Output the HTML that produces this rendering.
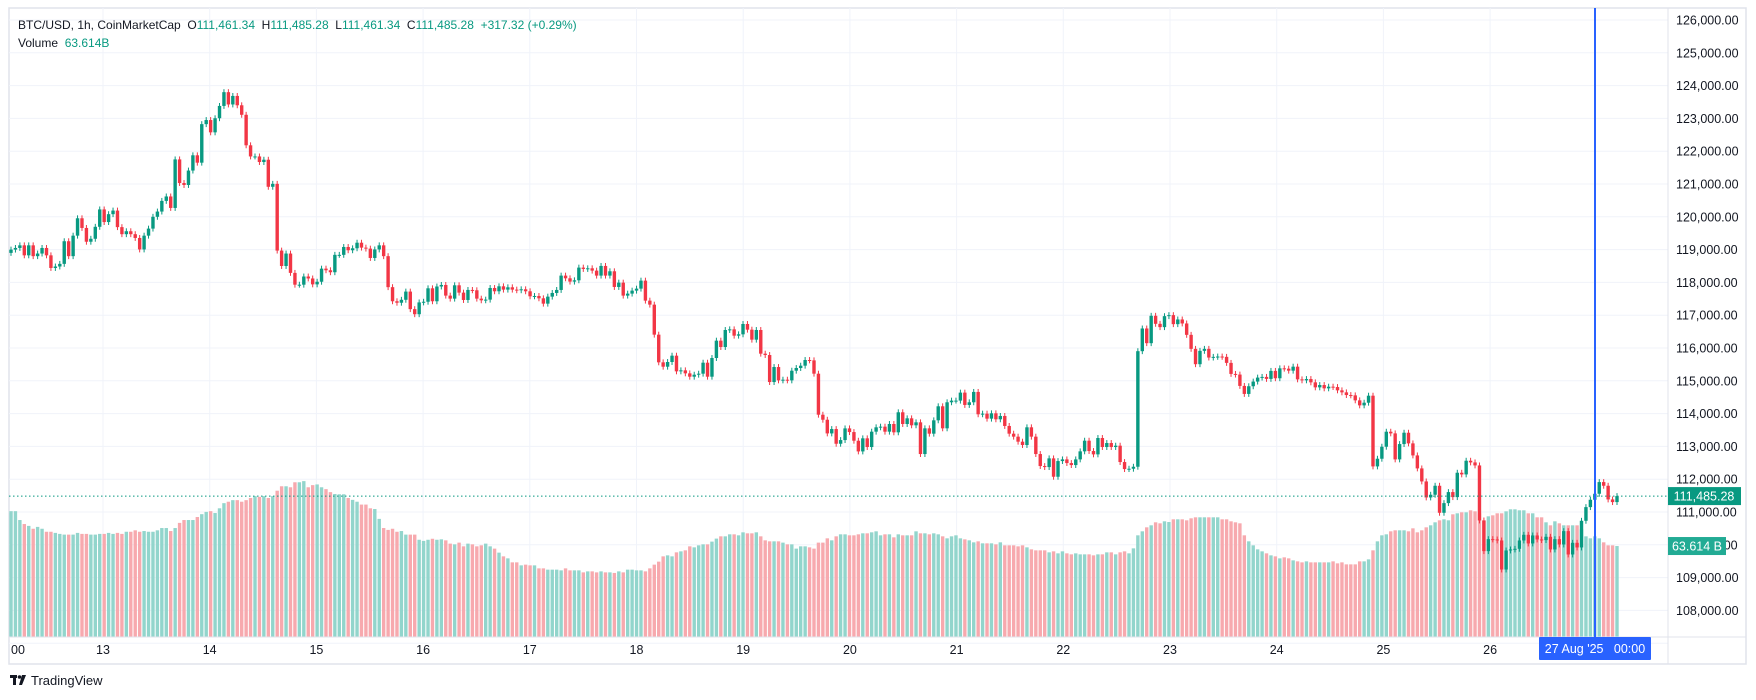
<!DOCTYPE html>
<html><head><meta charset="utf-8"><style>
html,body{margin:0;padding:0;background:#fff;}
body{width:1756px;height:700px;overflow:hidden;position:relative;font-family:"Liberation Sans",sans-serif;}
svg{position:absolute;left:0;top:0;}
</style></head><body>
<svg id="chart" width="1756" height="700" viewBox="0 0 1756 700">
<rect x="9" y="8" width="1737" height="656" fill="#fff" stroke="#e0e3eb" stroke-width="1.5"/>
<g id="grid"></g>
<g id="vol"></g>
<g id="candles"></g>
<g id="axes"></g>
</svg>
<script>
const closes = [
119000,119050,119130,118825,119130,118800,118880,119050,118825,118440,118485,118565,119255,118800,119425,119955,119660,119240,119330,119695,
120225,119840,120080,120190,119685,119470,119560,119470,119355,119005,119425,119640,120000,120160,120485,120620,120270,121750,121030,120970,
121410,121875,121650,122825,122950,122575,123005,123380,123800,123425,123685,123400,123110,122180,121840,121840,121670,121740,120915,121005,
118970,118500,118880,118290,117930,117930,118180,118120,117940,118020,118420,118370,118310,118840,118840,119080,118980,119040,119210,119060,
119030,118745,119005,119130,118800,117855,117425,117380,117470,117720,117185,117030,117390,117410,117820,117425,117875,
117922,117597,117505,117912,117688,117464,117770,117760,117505,117454,117475,117830,117729,117881,117780,117851,117780,117760,117790,117729,
117576,117586,117515,117352,117566,117678,117770,118207,118125,118024,118064,118451,118410,118430,118359,118207,118502,118207,118339,117861,
117993,117597,117658,117749,117810,118054,117444,117322,116407,115563,115430,115573,115766,115288,115319,115227,115125,115186,115217,115552,
115125,115695,116224,116030,116549,116569,116376,116417,116732,116559,116254,116549,115827,115786,114962,115420,115013,115034,115013,115308,
115390,115461,115634,115623,115217,113966,113813,113396,113529,113081,113193,113549,113437,113173,112847,
113246,112981,113449,113582,113602,113449,113683,113429,114040,113683,113856,113643,113734,112767,113551,113388,113795,114223,113551,114345,
114396,114396,114640,114264,114345,114661,113979,113999,113846,114009,113826,113928,113623,113388,113297,113144,113042,113582,113297,112767,
112401,112370,112635,112075,112553,112604,112492,112431,112604,112849,113174,112859,112757,113256,112981,113103,112981,113022,112523,112309,
112319,112380,115903,116595,116147,116982,116737,116636,116971,117002,116727,116870,116748,116401,115974,115506,115913,115974,115709,115730,
115740,115730,115546,115210,115190,114844,114600,114834,114976,115098,115119,115058,115302,115078,
115380,115370,115309,115431,115044,115014,115054,114953,114800,114871,114770,114821,114810,114709,114648,114566,114556,114404,114251,114332,
114546,112390,112624,112990,113448,113397,112604,113071,113417,113092,112725,112329,111932,111444,111526,111800,110976,111271,111607,111454,
112197,112146,112563,112512,112420,110742,109807,110173,110163,110132,109247,109827,109858,109878,110132,110305,110041,110285,110163,110143,
110244,109858,110173,110010,110417,109705,110061,109919,110732,111149,111373,111556,111912,111800,111383,111302,111485.28
];
const volumes = [
88.0,88.0,81.8,79.0,77.7,75.7,77.0,75.7,73.6,73.6,72.8,72.1,71.6,71.6,71.6,72.8,72.1,72.1,71.6,71.6,
72.1,72.1,72.8,72.1,72.8,72.1,73.6,73.6,74.6,73.6,74.1,73.6,73.6,74.6,76.2,76.2,74.1,76.2,79.8,81.8,
81.8,81.8,83.9,85.9,87.5,88.0,86.7,90.0,93.6,94.6,95.7,95.7,94.6,95.7,97.2,98.5,98.0,98.5,97.2,98.5,
102.3,105.4,105.4,104.7,108.2,108.2,109.0,104.7,106.2,106.7,104.7,103.4,101.3,100.0,99.8,99.8,97.2,95.9,94.6,92.6,
92.6,90.0,89.5,82.6,76.2,74.9,75.7,73.6,74.1,71.6,71.6,71.6,68.0,67.2,68.0,68.7,68.0,
68.3,67.6,65.3,64.8,66.0,63.4,65.3,64.8,63.4,64.1,65.3,63.4,61.8,59.0,56.4,55.0,52.2,52.2,50.1,50.6,
50.1,50.1,48.0,48.0,47.1,47.1,47.1,46.6,48.0,46.6,46.6,46.6,45.2,45.9,45.9,45.2,45.9,45.2,45.2,44.8,
45.9,45.2,47.1,47.1,46.6,46.6,45.9,48.0,50.6,52.7,56.4,57.1,56.4,59.2,59.9,60.6,63.4,62.7,64.1,64.8,
64.8,66.7,68.8,70.4,70.4,71.8,71.8,71.1,73.2,72.5,72.5,73.2,70.4,67.6,66.9,66.9,66.9,66.0,64.8,64.8,
61.8,63.4,63.4,62.7,61.8,66.0,66.0,69.0,67.6,70.4,71.8,71.8,71.1,71.1,71.8,
72.5,72.5,73.2,73.9,71.1,71.8,71.8,69.7,71.8,71.1,71.1,71.1,73.9,72.5,72.5,71.8,72.5,71.8,70.4,69.0,
70.4,71.1,69.0,68.3,67.6,66.2,66.9,65.5,65.5,65.5,64.8,66.2,64.1,64.1,64.1,63.4,64.1,62.7,61.3,60.6,
60.6,60.6,59.2,59.9,58.5,59.9,58.5,57.8,58.5,57.8,57.8,57.8,57.1,57.8,57.8,59.2,59.2,57.8,59.2,59.9,
58.5,62.0,71.1,73.9,76.7,78.1,80.2,79.5,80.9,80.4,82.3,82.3,82.3,81.6,83.0,83.7,83.7,83.7,83.7,83.7,
83.7,82.3,82.3,80.9,80.2,79.5,71.1,66.9,64.1,61.3,59.9,58.5,57.1,56.4,
55.0,55.7,55.0,53.6,52.9,52.2,52.9,52.2,52.2,52.2,52.2,52.2,52.9,51.5,52.2,50.8,50.8,50.8,52.9,52.9,
54.3,60.6,66.9,71.1,71.8,73.9,74.6,74.6,74.6,73.9,76.0,73.2,74.6,76.7,78.1,80.2,81.6,82.3,81.6,85.8,
86.5,87.2,87.2,88.6,87.9,86.5,81.6,84.4,85.1,86.5,86.5,87.9,89.3,89.3,88.6,88.6,86.5,86.5,83.7,83.7,
80.2,78.1,80.9,79.5,78.1,78.1,78.1,78.1,75.3,70.4,69.0,70.4,69.0,66.2,64.1,64.1,63.614
];
const priceTicks = [126000,125000,124000,123000,122000,121000,120000,119000,118000,117000,116000,115000,114000,113000,112000,111000,110000,109000,108000];
const dayLabels = ["13","14","15","16","17","18","19","20","21","22","23","24","25","26"];
const firstOpen = 118900;
const lastPrice = 111485.28;
const lastVolume = "63.614 B";

const NS = "http://www.w3.org/2000/svg";
const PL = 9, PR = 1668, PT = 8, PB = 637;
const yP = p => 20 + (126000 - p) * 0.0328;
const n = closes.length;
const xI = i => 11 + i * (1606 / (n - 1));
const dayX = d => 103 + d * 106.7;
const yV = v => PB - v * 1.43;
function mk(tag, attrs, parent) {
  const e = document.createElementNS(NS, tag);
  for (const k in attrs) e.setAttribute(k, attrs[k]);
  parent.appendChild(e);
  return e;
}
const grid = document.getElementById('grid');
const axes = document.getElementById('axes');
const vol = document.getElementById('vol');
const cg = document.getElementById('candles');

priceTicks.forEach(p => {
  const l = mk('line', {x1: PL, x2: PR, y1: yP(p), y2: yP(p), stroke: '#f0f3fa', 'stroke-width': 1}, grid);
  
  
});
mk('line', {x1: PL, x2: PR, y1: yP(107000), y2: yP(107000), stroke: '#f0f3fa'}, grid);
dayLabels.forEach((d, i) => {
  const l = mk('line', {x1: dayX(i), x2: dayX(i), y1: PT, y2: PB, stroke: '#f0f3fa', 'stroke-width': 1}, grid);
  
  
});

let prev = firstOpen;
closes.forEach((c, i) => {
  const o = prev; prev = c;
  const up = c >= o;
  const x = xI(i);
  const v = volumes[Math.min(i, volumes.length - 1)];
  const vb = mk('rect', {x: x - 1.7, y: yV(v), width: 3.4, height: PB - yV(v), fill: up ? '#92d5cc' : '#f7a9ae'}, vol);
  
  
  const col = up ? '#089981' : '#f23645';
  const hi = Math.max(o, c) + 90, lo = Math.min(o, c) - 90;
  const w = mk('line', {x1: x, x2: x, y1: yP(hi), y2: yP(lo), stroke: col, 'stroke-width': 1}, cg);
  
  
  const top = yP(Math.max(o, c)), bot = yP(Math.min(o, c));
  const b = mk('rect', {x: x - 1.7, y: top, width: 3.4, height: Math.max(1, bot - top), fill: col}, cg);
  
  
});

// current price line
const pl = mk('line', {x1: PL, x2: PR, y1: yP(lastPrice), y2: yP(lastPrice), stroke: '#089981', 'stroke-width': 1, 'stroke-dasharray': '1.5 2.5'}, axes);



// axes borders
mk('line', {x1: PR, x2: PR, y1: PT, y2: 664, stroke: '#e0e3eb'}, axes);
mk('line', {x1: PL, x2: 1746, y1: PB, y2: PB, stroke: '#e0e3eb'}, axes);

priceTicks.forEach(p => {
  const t = mk('text', {x: 1676, y: yP(p) + 4.5, 'font-size': 12.5, fill: '#131722', 'font-family': 'Liberation Sans, sans-serif'}, axes);
  t.textContent = p.toLocaleString('en-US', {minimumFractionDigits: 2});
  
  
});
dayLabels.forEach((d, i) => {
  const t = mk('text', {x: dayX(i), y: 654, 'font-size': 12.5, fill: '#131722', 'text-anchor': 'middle', 'font-family': 'Liberation Sans, sans-serif'}, axes);
  t.textContent = d;
  
  
});
const t0 = mk('text', {x: 11, y: 654, 'font-size': 12.5, fill: '#131722', 'font-family': 'Liberation Sans, sans-serif'}, axes);
t0.textContent = '00';



// crosshair
const cx = mk('rect', {x: 1594, y: PT, width: 2, height: PB - PT, fill: '#2962ff'}, axes);


const cb = mk('rect', {x: 1539, y: PB, width: 112, height: 23, fill: '#2962ff', rx: 1}, axes);


const ct = mk('text', {x: 1595, y: 653, 'font-size': 12.5, fill: '#fff', 'text-anchor': 'middle', 'font-family': 'Liberation Sans, sans-serif'}, axes);
ct.textContent = "27 Aug '25   00:00";
ct.setAttribute('xml:space', 'preserve');
ct.style.whiteSpace = 'pre';

// price labels
const pb = mk('rect', {x: 1668, y: yP(lastPrice) - 9, width: 73, height: 18, fill: '#089981'}, axes);


const pt = mk('text', {x: 1704, y: yP(lastPrice) + 4.5, 'font-size': 12.5, fill: '#fff', 'text-anchor': 'middle', 'font-family': 'Liberation Sans, sans-serif'}, axes);
pt.textContent = lastPrice.toLocaleString('en-US', {minimumFractionDigits: 2});
const vbx = mk('rect', {x: 1668, y: yV(volumes[volumes.length - 1]) - 9, width: 58, height: 18, fill: '#22ab94'}, axes);


const vt = mk('text', {x: 1697, y: yV(volumes[volumes.length - 1]) + 4.5, 'font-size': 12.5, fill: '#fff', 'text-anchor': 'middle', 'font-family': 'Liberation Sans, sans-serif'}, axes);
vt.textContent = lastVolume;
</script>
<div style="position:absolute;left:18px;top:16px;font-size:12px;line-height:18px;color:#131722;">
<div>BTC/USD, 1h, CoinMarketCap&nbsp; O<span style="color:#089981">111,461.34</span>&nbsp; H<span style="color:#089981">111,485.28</span>&nbsp; L<span style="color:#089981">111,461.34</span>&nbsp; C<span style="color:#089981">111,485.28</span>&nbsp; <span style="color:#089981">+317.32 (+0.29%)</span></div>
<div>Volume&nbsp; <span style="color:#089981">63.614B</span></div>
</div>
<div style="position:absolute;left:10px;top:673px;font-size:13px;color:#131722;display:flex;align-items:center;gap:3px;">
<svg width="18" height="11" viewBox="0 0 18 11" style="position:static"><rect x="0" y="0" width="7" height="3" fill="#131722"/><rect x="3" y="0" width="3" height="10" fill="#131722"/><circle cx="9.5" cy="2" r="1.8" fill="#131722"/><polygon points="12,0 16,0 12,10 9,10" fill="#131722"/></svg>
<span>TradingView</span></div>
</body></html>
